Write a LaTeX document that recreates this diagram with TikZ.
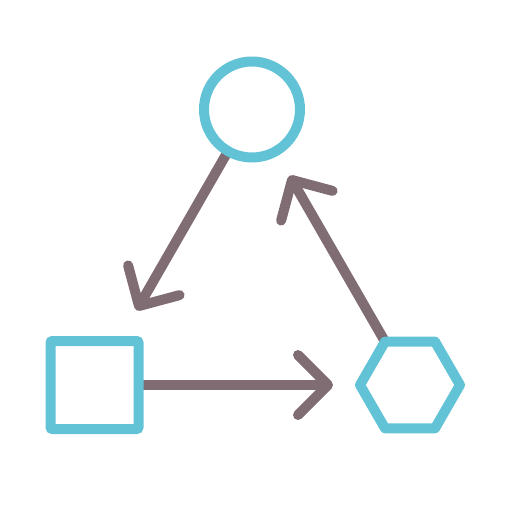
\documentclass[tikz,border=0pt]{standalone}
\usetikzlibrary{shapes.geometric,backgrounds}
\definecolor{cyanline}{RGB}{98,195,214}
\definecolor{mauveline}{RGB}{128,108,115}
\tikzset{
  shapebox/.style={draw=cyanline, line width=10pt, fill=white, inner sep=0pt, outer sep=0pt},
  conn/.style={draw=mauveline, line width=10pt, line cap=butt},
  chev/.style={draw=mauveline, line width=10pt, line cap=round, line join=round},
}
\begin{document}
\begin{tikzpicture}[x=1pt,y=-1pt]
\useasboundingbox (0,0) rectangle (512,512);
\node[shapebox, circle, minimum size=96pt] (circ) at (252,109.5) {};
\node[shapebox, rectangle, minimum size=88pt, rounded corners=2pt] (sq) at (94.5,385) {};
\node[shapebox, regular polygon, regular polygon sides=6, minimum size=100pt, line join=round] (hex) at (410,385) {};
\coordinate (t1) at (139,306);
\coordinate (t2) at (328,385);
\coordinate (t3) at (292,180);
\begin{scope}[on background layer]
\draw[conn] (circ.center) -- (t1);
\draw[conn] (sq.center) -- (t2);
\draw[conn] (hex.center) -- (t3);
\end{scope}
\draw[chev] (128.1,265.4) -- (t1) -- (179.6,295.1);
\draw[chev] (298,355) -- (t2) -- (298,415);
\draw[chev] (332.6,190.9) -- (t3) -- (281.1,220.6);
\end{tikzpicture}
\end{document}
